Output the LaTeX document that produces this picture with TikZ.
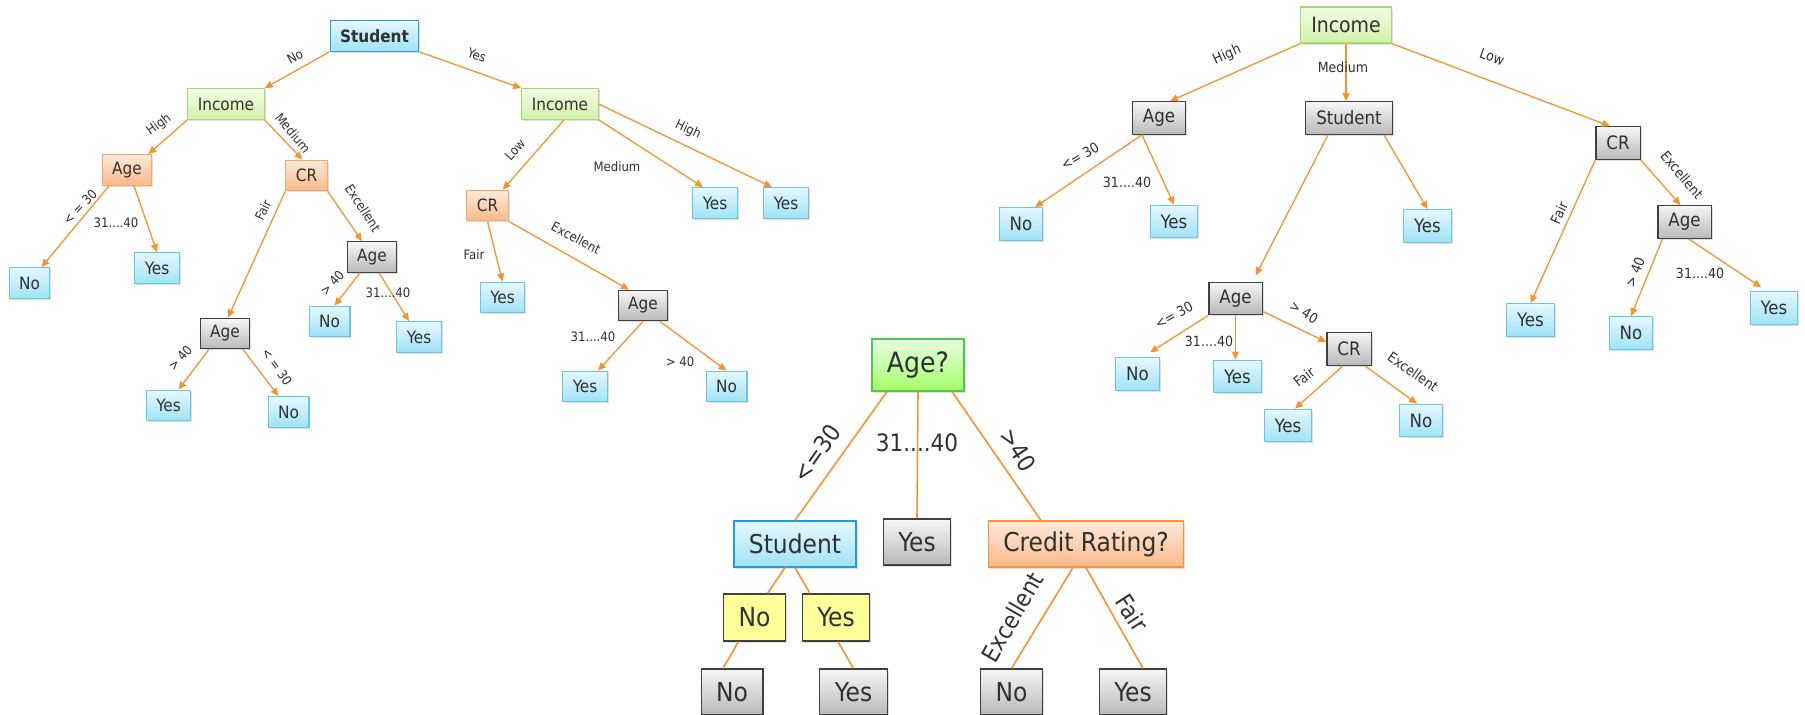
\documentclass[tikz,border=0pt]{standalone}
\usepackage{fontspec}
\setmainfont{DejaVu Sans Condensed}
\usetikzlibrary{arrows.meta,shadows}

\definecolor{lineor}{HTML}{F39432}
\definecolor{txt}{HTML}{303030}
\definecolor{bluB}{HTML}{6CC6E2}
\definecolor{bluT}{HTML}{E6F8FE}
\definecolor{bluD}{HTML}{9FE3F8}
\definecolor{grnB}{HTML}{A8D873}
\definecolor{grnT}{HTML}{F4FDE6}
\definecolor{grnD}{HTML}{D3F1AB}
\definecolor{orgB}{HTML}{F4A76A}
\definecolor{orgT}{HTML}{FEEADB}
\definecolor{orgD}{HTML}{FAB98A}
\definecolor{gryB}{HTML}{404040}
\definecolor{gryT}{HTML}{F6F6F6}
\definecolor{gryD}{HTML}{B9B9B9}
\definecolor{ylw}{HTML}{FFFF99}

\tikzset{
  box/.style={draw, rectangle, line width=1.2pt, inner ysep=0pt, text=txt,
    drop shadow={shadow xshift=1.5pt, shadow yshift=-1.5pt, opacity=0.25}},
  blu/.style={box, draw=bluB, top color=bluT, bottom color=bluD},
  grn/.style={box, draw=grnB, top color=grnT, bottom color=grnD},
  org/.style={box, draw=orgB, top color=orgT, bottom color=orgD},
  gry/.style={box, draw=gryB, top color=gryT, bottom color=gryD},
  yel/.style={box, draw=gryB, fill=ylw},
  % sizes of the three trees
  sml/.style={inner xsep=10pt, minimum height=30.5pt, font=\fontsize{17}{19}\selectfont},
  mid/.style={inner xsep=10.5pt, minimum height=32.5pt, font=\fontsize{18.5}{21}\selectfont},
  big/.style={inner xsep=15pt, minimum height=46pt, font=\fontsize{26}{30}\selectfont},
  lbs/.style={text=txt, inner sep=0pt, font=\fontsize{13}{15}\selectfont},
  lbm/.style={text=txt, inner sep=0pt, font=\fontsize{14}{16}\selectfont},
  lbb/.style={text=txt, inner sep=0pt, font=\fontsize{24}{28}\selectfont},
  arr/.style={draw=lineor, line width=1.3pt, -{Triangle[length=8pt,width=7pt]}},
  ln/.style={draw=lineor, line width=1.6pt}
}

\begin{document}
\begin{tikzpicture}[x=1pt,y=-1pt]
\useasboundingbox (0,0) rectangle (1805,715);

% left tree
\node[blu, sml, draw=cyan!70!blue!80, font=\fontsize{17}{19}\selectfont\bfseries] (stu1) at (374.5,36) {Student};
\node[grn, sml] (inc1) at (226,104) {Income};
\node[grn, sml] (inc2) at (560,104) {Income};
\node[org, sml] (age1) at (127,170) {Age};
\node[org, sml] (cr1) at (306.5,175.5) {CR};
\node[blu, sml] (no1) at (29.5,283) {No};
\node[blu, sml] (yes1) at (157,268) {Yes};
\node[gry, sml] (age2) at (372,257) {Age};
\node[blu, sml] (no2) at (329.5,321.5) {No};
\node[blu, sml] (yes2) at (419,337) {Yes};
\node[gry, sml] (age3) at (225,333.5) {Age};
\node[blu, sml] (yes3) at (168.5,405.5) {Yes};
\node[blu, sml] (no3) at (288.5,412) {No};
\node[org, sml] (cr2) at (487.5,205.5) {CR};
\node[blu, sml] (yes4) at (715,203) {Yes};
\node[blu, sml] (yes5) at (786,203) {Yes};
\node[blu, sml] (yes6) at (502.5,297.5) {Yes};
\node[gry, sml] (age4) at (643,305.5) {Age};
\node[blu, sml] (yes7) at (585,386.5) {Yes};
\node[blu, sml] (no4) at (726.5,386.5) {No};

\draw[arr] (stu1.south west) -- (inc1.north east);
\draw[arr] (stu1.south east) -- (inc2.north west);
\draw[arr] (inc1.south west) -- ([xshift=-4]age1.north east);
\draw[arr] (inc1.south east) -- ([xshift=-4]cr1.north);
\draw[arr] ([xshift=-18]age1.south) -- ([xshift=12]no1.north);
\draw[arr] ([xshift=7]age1.south) -- (yes1.north);
\draw[arr] (cr1.south west) -- ([xshift=3]age3.north);
\draw[arr] (cr1.south east) -- ([xshift=-10]age2.north);
\draw[arr] ([xshift=-12]age2.south) -- ([xshift=5]no2.north);
\draw[arr] ([xshift=7]age2.south) -- ([xshift=-10]yes2.north);
\draw[arr] ([xshift=-16]age3.south) -- ([xshift=10]yes3.north);
\draw[arr] ([xshift=18]age3.south) -- ([xshift=-10]no3.north);
\draw[arr] ([xshift=4]inc2.south) -- ([xshift=-6]cr2.north east);
\draw[arr] (inc2.south east) -- ([xshift=-12]yes4.north);
\draw[arr] (inc2.east) -- ([xshift=-14]yes5.north);
\draw[arr] (cr2.south) -- (yes6.north);
\draw[arr] (cr2.south east) -- ([xshift=-14]age4.north);
\draw[arr] (age4.south) -- ([xshift=13]yes7.north);
\draw[arr] ([xshift=17]age4.south) -- (no4.north);

\node[lbs, rotate=29] (t1) at (295,57) {No};
\node[lbs, rotate=-20] (t2) at (477,55) {Yes};
\node[lbs, rotate=37] (t3) at (159,125) {High};
\node[lbs, rotate=-50] (t4) at (293,133) {Medium};
\node[lbs, rotate=46] (t5) at (80,207) {< = 30};
\node[lbs] (t6) at (116,223) {31....40};
\node[lbs, rotate=64] (t7) at (263,210) {Fair};
\node[lbs, rotate=-57] (t8) at (363,208) {Excellent};
\node[lbs, rotate=48] (t9) at (332,283) {> 40};
\node[lbs] (t10) at (388,293) {31....40};
\node[lbs, rotate=48] (t11) at (180,358) {> 40};
\node[lbs, rotate=-55] (t12) at (277,367) {< = 30};
\node[lbs, rotate=47] (t13) at (515,150) {Low};
\node[lbs] (t14) at (617,167) {Medium};
\node[lbs, rotate=-25] (t15) at (688,130) {High};
\node[lbs] (t16) at (474,255) {Fair};
\node[lbs, rotate=-28] (t17) at (576,238) {Excellent};
\node[lbs] (t18) at (593,337) {31....40};
\node[lbs] (t19) at (680,362) {> 40};

% right tree
\node[grn, mid, minimum height=36pt, font=\fontsize{21}{24}\selectfont] (inc3) at (1346,25) {Income};
\node[gry, mid] (age5) at (1159,118) {Age};
\node[gry, mid] (stu2) at (1349,118) {Student};
\node[gry, mid] (cr3) at (1618,143) {CR};
\node[blu, mid] (no5) at (1021,224) {No};
\node[blu, mid] (yes8) at (1174,221.5) {Yes};
\node[blu, mid] (yes9) at (1427.5,226) {Yes};
\node[gry, mid] (age6) at (1235.5,298.5) {Age};
\node[blu, mid] (no6) at (1137.5,374) {No};
\node[blu, mid] (yes10) at (1237.5,376.5) {Yes};
\node[gry, mid] (cr4) at (1349,349) {CR};
\node[blu, mid] (yes11) at (1288,425.5) {Yes};
\node[blu, mid] (no7) at (1421,420.5) {No};
\node[blu, mid] (yes12) at (1530.5,320) {Yes};
\node[gry, mid] (age7) at (1684.5,222) {Age};
\node[blu, mid] (no8) at (1631,333) {No};
\node[blu, mid] (yes13) at (1774,308) {Yes};

\draw[arr] (inc3.south west) -- ([xshift=11]age5.north);
\draw[arr] (inc3.south) -- (inc3.south |- stu2.north);
\draw[arr] (inc3.south east) -- ([xshift=-8]cr3.north);
\draw[arr] ([xshift=-17]age5.south) -- ([xshift=14]no5.north);
\draw[arr] ([xshift=-17]age5.south) -- (yes8.north);
\draw[arr, shorten >=7pt] ([xshift=-21]stu2.south) -- ([xshift=17]age6.north);
\draw[arr] ([xshift=-9]stu2.south east) -- (yes9.north);
\draw[arr] (cr3.south west) -- (yes12.north);
\draw[arr] (cr3.south east) -- ([xshift=-4]age7.north);
\draw[arr] ([xshift=-22]age7.south) -- (no8.north);
\draw[arr, shorten >=7pt] ([xshift=4]age7.south) -- ([xshift=-7]yes13.north);
\draw[arr, shorten >=9pt] (age6.south west) -- ([xshift=5]no6.north);
\draw[arr] (age6.south) -- (age6.south |- yes10.north);
\draw[arr] ([yshift=4]age6.south east) -- ([yshift=7]cr4.west);
\draw[arr] ([xshift=-6]cr4.south) -- ([xshift=7]yes11.north);
\draw[arr] ([xshift=16]cr4.south) -- ([xshift=-4]no7.north);

\node[lbm, rotate=24] (t20) at (1227,55) {High};
\node[lbm] (t21) at (1343,67) {Medium};
\node[lbm, rotate=-20] (t22) at (1492,57) {Low};
\node[lbm, rotate=30] (t23) at (1080,156) {<= 30};
\node[lbm] (t24) at (1127,182) {31....40};
\node[lbm, rotate=65] (t25) at (1559,213) {Fair};
\node[lbm, rotate=-50] (t26) at (1682,175) {Excellent};
\node[lbm, rotate=68] (t27) at (1635,272) {> 40};
\node[lbm] (t28) at (1700,273) {31....40};
\node[lbm, rotate=30] (t29) at (1174,315) {<= 30};
\node[lbm] (t30) at (1209,341) {31....40};
\node[lbm, rotate=-32] (t31) at (1304,312) {> 40};
\node[lbm, rotate=38] (t32) at (1304,377) {Fair};
\node[lbm, rotate=-35] (t33) at (1413,372) {Excellent};

% bottom tree
\node[grn, big, draw=green!70!black!70, top color=green!10, bottom color=green!45!lime!60,
  minimum height=52pt, font=\fontsize{28}{32}\selectfont] (agq) at (918,365) {Age?};
\node[blu, big, draw=cyan!80!blue!90] (stu3) at (795,544) {Student};
\node[gry, big] (yesm) at (917,542) {Yes};
\node[org, big, draw=orange!90!red!80] (crq) at (1086,544) {Credit Rating?};
\node[yel, big, minimum height=47pt] (noy) at (754.5,617.5) {No};
\node[yel, big, minimum height=47pt] (yesy) at (836,617.5) {Yes};
\node[gry, big] (nob1) at (732,692) {No};
\node[gry, big] (yesb1) at (853.5,692) {Yes};
\node[gry, big] (nob2) at (1011.5,692) {No};
\node[gry, big] (yesb2) at (1133,692) {Yes};

\draw[ln] ([xshift=-31]agq.south) -- (stu3.north);
\draw[ln] (agq.south) -- (yesm.north);
\draw[ln] ([xshift=34]agq.south) -- ([xshift=-45]crq.north);
\draw[ln] ([xshift=-10]stu3.south) -- ([xshift=13]noy.north);
\draw[ln] (stu3.south) -- ([xshift=-26]yesy.north);
\draw[ln] ([xshift=-16]noy.south) -- ([xshift=-9]nob1.north);
\draw[ln] ([xshift=2]yesy.south) -- (yesb1.north);
\draw[ln] ([xshift=-13]crq.south) -- (nob2.north);
\draw[ln] (crq.south) -- ([xshift=10]yesb2.north);

\node[lbb, rotate=55] (t34) at (817,453) {<=30};
\node[lbb] (t35) at (917,443) {31....40};
\node[lbb, rotate=-57] (t36) at (1018,450) {>40};
\node[lbb, rotate=60] (t37) at (1012,617) {Excellent};
\node[lbb, rotate=-57] (t38) at (1132,613) {Fair};
\end{tikzpicture}
\end{document}
